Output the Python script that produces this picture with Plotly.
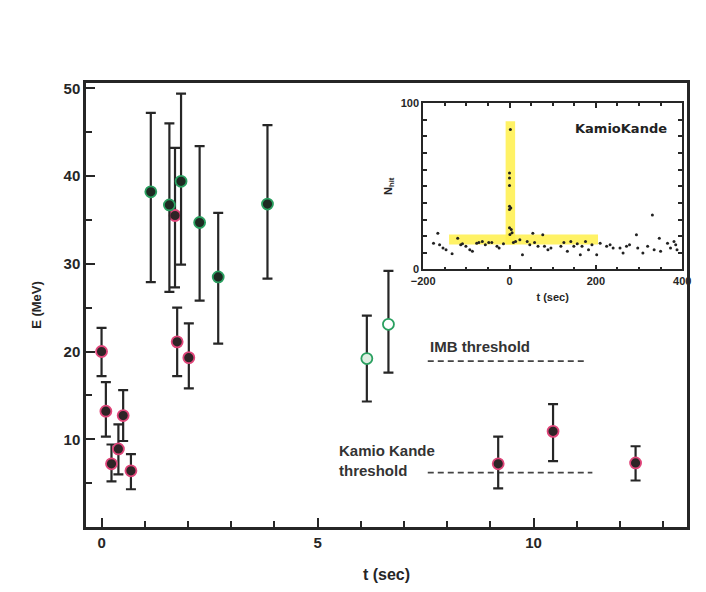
import plotly.graph_objects as go

# ---------------- data ----------------
# Kamiokande events (t in s, E in MeV, upper / lower error bar ends)
kam_t = [0.0, 0.10, 0.23, 0.39, 0.50, 0.68, 1.70, 1.75, 2.02, 9.18, 10.45, 12.36]
kam_E = [20.0, 13.2, 7.2, 8.9, 12.7, 6.4, 35.5, 21.1, 19.3, 7.2, 10.9, 7.3]
kam_hi = [22.7, 16.5, 9.4, 11.7, 15.6, 8.3, 43.2, 25.0, 23.2, 10.3, 14.0, 9.2]
kam_lo = [17.2, 10.3, 5.2, 6.0, 9.8, 4.3, 27.3, 17.2, 15.8, 4.4, 7.5, 5.3]

# IMB events
imb_t = [1.14, 1.57, 1.84, 2.27, 2.70, 3.84, 6.14, 6.64]
imb_E = [38.2, 36.7, 39.4, 34.7, 28.5, 36.8, 19.2, 23.1]
imb_hi = [47.2, 46.0, 49.4, 43.4, 35.8, 45.8, 24.1, 29.2]
imb_lo = [27.9, 26.8, 29.9, 25.8, 20.9, 28.3, 14.3, 17.6]
imb_fill = ["#1e2a22", "#1e2a22", "#1e2a22", "#1e2a22", "#1e2a22", "#1e2a22", "#dfeee2", "#ffffff"]

# thresholds
imb_thr_t = [7.55, 11.25]
imb_thr_E = [18.9, 18.9]
kam_thr_t = [7.55, 11.36]
kam_thr_E = [6.2, 6.2]

# inset: Kamiokande N_hit vs time
spike_t = [2, 0, 0, 0, 0, 3, 0, 0, 4, 6, 1]
spike_N = [84, 58, 55, 50.5, 38, 37, 36, 25, 24, 22, 21]
noise_t = [-166, -176, -162, -154, -147, -133, -120, -113, -109, -101, -92, -86, -76, -71,
           -63, -56, -48, -41, -29, -24, -14, 9, 14, 24, 30, 41, 47, 54, 58, 66, 77, 81,
           89, 96, 119, 126, 134, 142, 149, 157, 164, 168, 176, 183, 191, 202, 210, 225,
           233, 240, 256, 263, 271, 278, 294, 297, 309, 320, 331, 335, 347, 350, 366, 373,
           381, 385, 388]
noise_N = [21.8, 15.8, 14.9, 12.9, 11.9, 9.5, 18.8, 14.9, 15.4, 13.9, 11.9, 10.9, 15.8, 16.2,
           16.8, 14.9, 16.2, 16.2, 13.9, 12.9, 15.4, 16.2, 16.8, 17.8, 8.9, 16.8, 14.9, 21.8,
           16.2, 13.9, 20.8, 13.9, 11.9, 12.9, 13.9, 16.2, 10.9, 16.8, 13.9, 15.4, 8.9, 13.9,
           16.8, 11.9, 14.9, 8.9, 15.8, 13.9, 14.9, 12.9, 12.9, 9.9, 13.9, 14.9, 20.8, 12.9,
           9.9, 13.9, 32.7, 11.9, 18.8, 10.9, 15.8, 12.9, 16.8, 14.9, 11.9]

# ---------------- figure ----------------
FONT = "Liberation Sans, Arial, sans-serif"
INK = "#262626"
fig = go.Figure()

# threshold dashed lines
for tt, ee in ((imb_thr_t, imb_thr_E), (kam_thr_t, kam_thr_E)):
    fig.add_trace(go.Scatter(x=tt, y=ee, mode="lines",
                             line=dict(color="#444", width=1.6, dash="6px,4px"),
                             showlegend=False, hoverinfo="skip"))

fig.add_trace(go.Scatter(
    x=kam_t, y=kam_E, mode="markers", name="Kamiokande",
    error_y=dict(type="data", symmetric=False,
                 array=[h - e for h, e in zip(kam_hi, kam_E)],
                 arrayminus=[e - l for e, l in zip(kam_E, kam_lo)],
                 color=INK, thickness=2.2, width=5),
    marker=dict(size=11, color="#2e2426", line=dict(color="#e0457a", width=1.8)),
    showlegend=False))

fig.add_trace(go.Scatter(
    x=imb_t, y=imb_E, mode="markers", name="IMB",
    error_y=dict(type="data", symmetric=False,
                 array=[h - e for h, e in zip(imb_hi, imb_E)],
                 arrayminus=[e - l for e, l in zip(imb_E, imb_lo)],
                 color=INK, thickness=2.2, width=5),
    marker=dict(size=11, color=imb_fill, line=dict(color="#2aa060", width=1.8)),
    showlegend=False))

# inset traces
fig.add_trace(go.Scatter(x=noise_t, y=noise_N, mode="markers", xaxis="x2", yaxis="y2",
                         marker=dict(size=3, color="#222"), showlegend=False, hoverinfo="skip"))
fig.add_trace(go.Scatter(x=spike_t, y=spike_N, mode="markers", xaxis="x2", yaxis="y2",
                         marker=dict(size=3, color="#222"), showlegend=False, hoverinfo="skip"))

# yellow highlight bands in inset
fig.add_shape(type="rect", xref="x2", yref="y2", x0=-140, x1=205, y0=15, y1=21,
              fillcolor="#fff04a", line=dict(width=0), opacity=0.85, layer="below")
fig.add_shape(type="rect", xref="x2", yref="y2", x0=-9, x1=13, y0=15, y1=89,
              fillcolor="#fff04a", line=dict(width=0), opacity=0.85, layer="below")

fig.update_layout(
    width=706, height=592,
    margin=dict(l=86, r=10, t=83, b=64),
    paper_bgcolor="white", plot_bgcolor="white",
    font=dict(family=FONT, color=INK),
    xaxis=dict(range=[-0.36, 13.55], tickvals=[0, 5, 10], ticks="inside", ticklen=9,
               tickwidth=2, tickcolor=INK, showline=True, linewidth=2.5, linecolor=INK,
               mirror=True, showgrid=False, zeroline=False,
               minor=dict(dtick=1, tick0=0, ticks="inside", ticklen=6, tickwidth=1.5,
                          tickcolor=INK, showgrid=False),
               tickfont=dict(size=15, family=FONT, weight="bold"),
               title=dict(text="t (sec)", font=dict(size=16, weight="bold"), standoff=20)),
    yaxis=dict(range=[0, 50.6], tickvals=[10, 20, 30, 40, 50], ticks="inside", ticklen=9,
               tickwidth=2, tickcolor=INK, showline=True, linewidth=2.5, linecolor=INK,
               mirror=True, showgrid=False, zeroline=False,
               minor=dict(dtick=5, tick0=0, ticks="inside", ticklen=6, tickwidth=1.5,
                          tickcolor=INK, showgrid=False),
               tickfont=dict(size=15, family=FONT, weight="bold"),
               title=dict(text="E (MeV)", font=dict(size=13, weight="bold"), standoff=20)),
    xaxis2=dict(domain=[0.561, 0.992], anchor="y2", range=[-200, 400],
                tickvals=[-200, 0, 200, 400], ticks="inside", ticklen=5, tickwidth=1.5,
                tickcolor=INK, showline=True, linewidth=1.8, linecolor=INK,
                mirror="allticks", showgrid=False, zeroline=False,
                minor=dict(dtick=50, ticks="inside", ticklen=3, tickcolor=INK, showgrid=False),
                tickfont=dict(size=11, family=FONT, weight="bold"),
                title=dict(text="t (sec)", font=dict(size=11, weight="bold"), standoff=8)),
    yaxis2=dict(domain=[0.580, 0.955], anchor="x2", range=[0, 100],
                tickvals=[0, 100], ticks="inside", ticklen=5, tickwidth=1.5, tickcolor=INK,
                showline=True, linewidth=1.8, linecolor=INK, mirror="allticks",
                showgrid=False, zeroline=False,
                minor=dict(dtick=10, ticks="inside", ticklen=4, tickcolor=INK, showgrid=False),
                tickfont=dict(size=11, family=FONT, weight="bold"),
                title=dict(text="N<sub>hit</sub>", font=dict(size=11, weight="bold"), standoff=6)),
    annotations=[
        dict(x=0.89, y=0.92, xref="paper", yref="paper", text="KamioKande", showarrow=False,
             font=dict(size=13, family="DejaVu Sans", weight="bold", color="#222"),
             xanchor="center"),
        dict(x=7.55, y=19.4, xref="x", yref="y", text="IMB threshold", showarrow=False,
             xanchor="left", yanchor="bottom", font=dict(size=15, weight="bold", color="#333")),
        dict(x=5.45, y=5.2, xref="x", yref="y", text="Kamio Kande<br>threshold", showarrow=False,
             xanchor="left", yanchor="bottom", align="left",
             font=dict(size=15, weight="bold", color="#333")),
    ],
)

fig.write_html("out.html")
